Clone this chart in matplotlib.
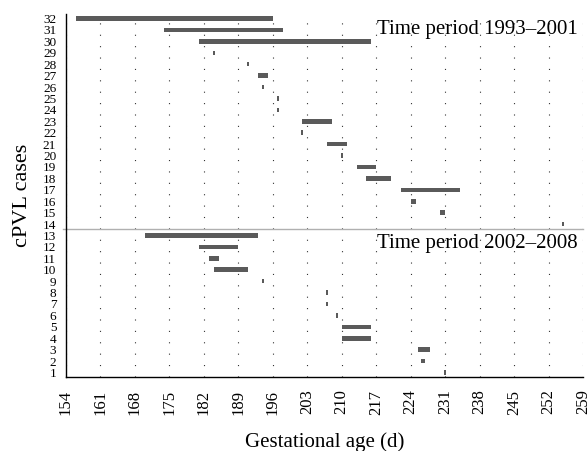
import matplotlib
matplotlib.use('Agg')
import matplotlib.pyplot as plt

plt.rcParams['font.family'] = ['Liberation Serif', 'DejaVu Serif']

# cPVL case number and the gestational age span (days) it was seen in
cases = [32, 31, 30, 29, 28, 27, 26, 25, 24, 23, 22, 21, 20, 19, 18, 17, 16, 15, 14,
         13, 12, 11, 10, 9, 8, 7, 6, 5, 4, 3, 2, 1]
start_day = [156, 174, 181, 184, 191, 193, 194, 197, 197, 202, 202, 207, 210, 213, 215, 222, 224, 230, 255,
             170, 181, 183, 184, 194, 207, 207, 209, 210, 210, 225.5, 226, 231]
end_day = [196, 198, 216, 184, 191, 195, 194, 197, 197, 208, 202, 211, 210, 217, 220, 234, 225, 231, 255,
           193, 189, 185, 191, 194, 207, 207, 209, 216, 216, 228, 227, 231]

x_ticks = list(range(154, 260, 7))
period_labels = ['Time period 1993\u20132001', 'Time period 2002\u20132008']

fig = plt.figure(figsize=(5.87, 4.51), dpi=100)
ax = fig.add_axes([0.1124, 0.164, 0.8808, 0.805])

# single-day observations get a thin mark centred on the day
lefts, widths = [], []
for s, e in zip(start_day, end_day):
    if e - s < 0.4:
        lefts.append(s - 0.2)
        widths.append(0.4)
    else:
        lefts.append(s)
        widths.append(e - s)

ax.barh(cases, widths, left=lefts, height=0.4, color='#5a5a5a', zorder=3)

# line that splits the two time periods
ax.axhline(13.6, color='#b0b0b0', lw=1.0, xmin=-0.005, xmax=1, clip_on=False, zorder=2)

ax.text(0.99, 31.05, period_labels[0], ha='right', va='center', fontsize=15,
        transform=ax.get_yaxis_transform())
ax.text(0.99, 12.3, period_labels[1], ha='right', va='center', fontsize=15,
        transform=ax.get_yaxis_transform())

ax.set_xlim(154, 259)
ax.set_ylim(0.6, 32.4)
ax.set_xticks(x_ticks)
ax.set_xticklabels([str(t) for t in x_ticks], rotation=90, fontsize=12)
ax.set_yticks(cases)
ax.set_yticklabels([str(c) for c in cases], fontsize=9.5)
ax.tick_params(axis='x', length=0, pad=9)
ax.tick_params(axis='y', length=0, pad=7)

ax.grid(axis='x', color='#333333', lw=0.8, linestyle=(0, (1, 9.25)))
ax.set_axisbelow(True)

for side in ['top', 'right']:
    ax.spines[side].set_visible(False)
ax.spines['left'].set_linewidth(1.0)
ax.spines['bottom'].set_linewidth(1.0)

ax.set_xlabel('Gestational age (d)', fontsize=15, labelpad=13)
ax.set_ylabel('cPVL cases', fontsize=16, labelpad=8)

fig.savefig('out.png', dpi=100)
